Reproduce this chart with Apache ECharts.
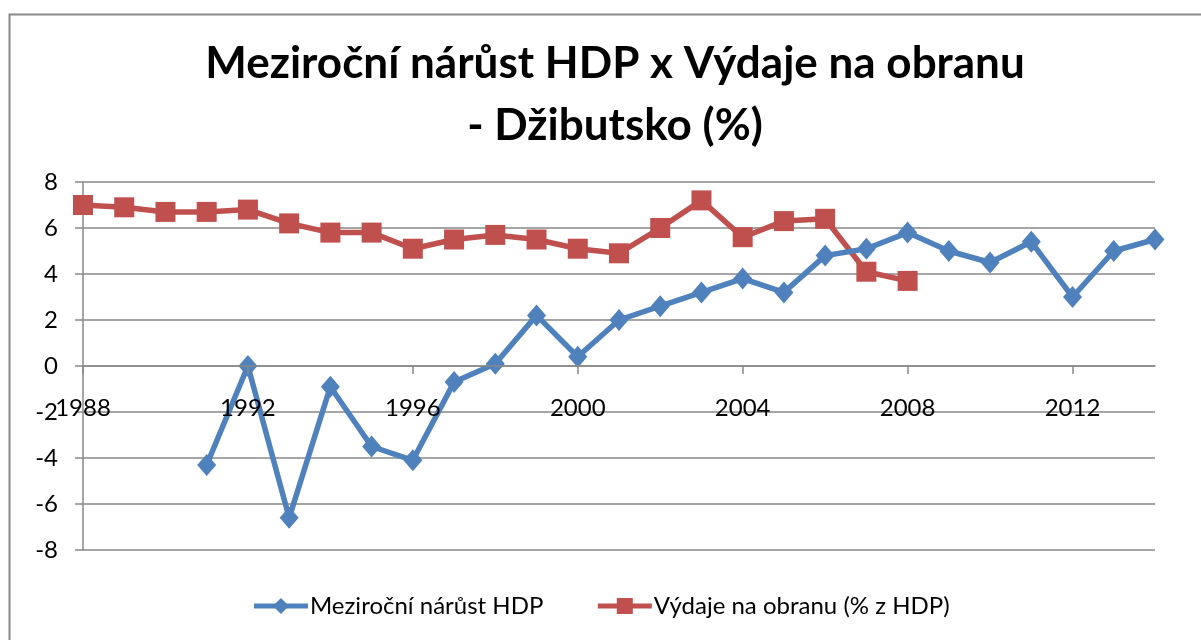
<!DOCTYPE html>
<html>
<head>
<meta charset="utf-8">
<script src="https://cdn.jsdelivr.net/npm/echarts@6/dist/echarts.min.js"></script>
<style>
  html, body { margin: 0; padding: 0; background: #fff; }
  #chart { width: 1201px; height: 640px; }
</style>
</head>
<body>
<div id="chart"></div>
<script>
// roky na ose x
const years = [
  "1988", "1989", "1990", "1991", "1992", "1993", "1994", "1995", "1996",
  "1997", "1998", "1999", "2000", "2001", "2002", "2003", "2004", "2005",
  "2006", "2007", "2008", "2009", "2010", "2011", "2012", "2013", "2014"
];

// meziroční nárůst HDP (od 1991)
const gdpGrowth = [
  null, null, null, -4.3, 0.0, -6.6, -0.9, -3.5, -4.1,
  -0.7, 0.1, 2.2, 0.4, 2.0, 2.6, 3.2, 3.8, 3.2,
  4.8, 5.1, 5.8, 5.0, 4.5, 5.4, 3.0, 5.0, 5.5
];

// výdaje na obranu (% z HDP), do 2008
const defenceSpend = [
  7.0, 6.9, 6.7, 6.7, 6.8, 6.2, 5.8, 5.8, 5.1,
  5.5, 5.7, 5.5, 5.1, 4.9, 6.0, 7.2, 5.6, 6.3,
  6.4, 4.1, 3.7, null, null, null, null, null, null
];

const yTicks = { min: -8, max: 8, step: 2 };

const font = "Lato, 'Open Sans', sans-serif";
const gridColor = "#898989";

let chart = echarts.init(document.getElementById("chart"));

// výška gridu 368 px, nula je v polovině -> posun osy x nahoru
const gridTop = 182, gridBottom = 90;
const plotH = 640 - gridTop - gridBottom;
const zeroOffset = -plotH * (0 - yTicks.min) / (yTicks.max - yTicks.min);

let option = {
  backgroundColor: "#fff",
  animation: false,
  textStyle: { fontFamily: font },
  // rámeček grafu
  graphic: [{
    type: "rect",
    left: 7,
    top: 12,
    shape: { width: 1300, height: 700 },
    style: { fill: "none", stroke: gridColor, lineWidth: 2 },
    silent: true
  }],
  title: {
    text: "Meziroční nárůst HDP x Výdaje na obranu\n- Džibutsko (%)",
    left: 610,
    textAlign: "center",
    top: 28,
    textStyle: {
      fontFamily: font,
      fontSize: 44,
      fontWeight: "bold",
      color: "#000",
      lineHeight: 62
    }
  },
  legend: {
    bottom: 17,
    left: "center",
    itemWidth: 54,
    itemHeight: 20,
    itemGap: 52,
    lineStyle: { width: 5 },
    textStyle: { fontFamily: font, fontSize: 24, color: "#000", padding: [0, 0, 0, -3] },
    data: ["Meziroční nárůst HDP", "Výdaje na obranu (% z HDP)"]
  },
  grid: { left: 83, right: 46, top: gridTop, bottom: gridBottom },
  xAxis: {
    type: "category",
    data: years,
    boundaryGap: false,
    offset: zeroOffset,
    z: 4,
    axisLine: { onZero: false, lineStyle: { color: gridColor, width: 1.5 } },
    axisTick: { interval: 3, length: 8, lineStyle: { color: gridColor, width: 1.5 } },
    axisLabel: { interval: 3, margin: 30, color: "#000", fontSize: 24, fontFamily: font },
    splitLine: { show: false }
  },
  yAxis: {
    type: "value",
    min: yTicks.min,
    max: yTicks.max,
    interval: yTicks.step,
    axisLine: { show: true, lineStyle: { color: gridColor, width: 1.5 } },
    axisTick: { show: true, length: 8, lineStyle: { color: gridColor, width: 1.5 } },
    axisLabel: { color: "#000", fontSize: 24, fontFamily: font, margin: 25 },
    splitLine: { lineStyle: { color: gridColor, width: 1.5 } }
  },
  series: [
    {
      name: "Meziroční nárůst HDP",
      type: "line",
      data: gdpGrowth,
      symbol: "diamond",
      symbolSize: [19, 22],
      connectNulls: false,
      itemStyle: { color: "#4F81BD" },
      lineStyle: { color: "#4F81BD", width: 5.5 },
      z: 3
    },
    {
      name: "Výdaje na obranu (% z HDP)",
      type: "line",
      data: defenceSpend,
      symbol: "rect",
      symbolSize: 20,
      itemStyle: { color: "#C0504D" },
      lineStyle: { color: "#C0504D", width: 5.5 },
      z: 2
    }
  ]
};

chart.setOption(option);
</script>
</body>
</html>
